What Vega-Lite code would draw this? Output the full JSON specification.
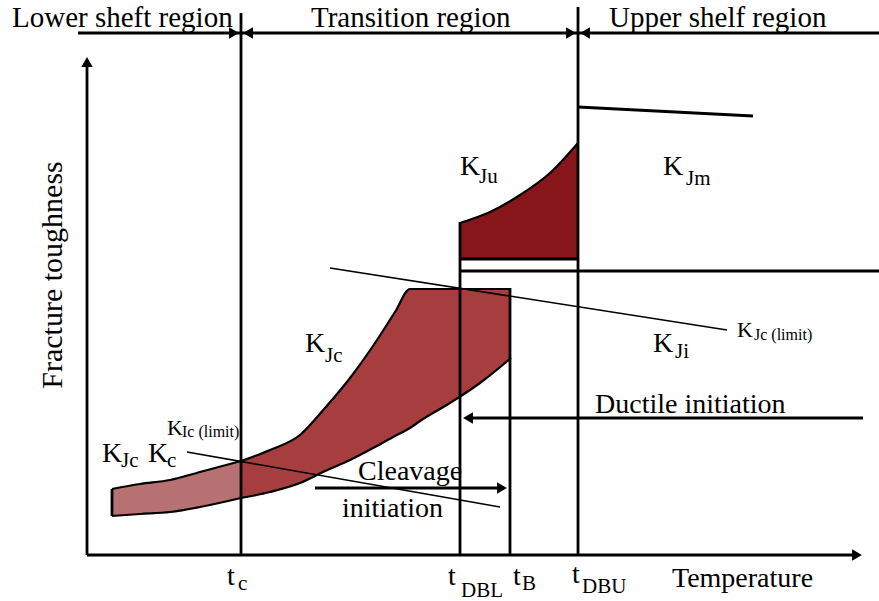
{
  "$schema": "https://vega.github.io/schema/vega-lite/v6.json",
  "width": 879,
  "height": 601,
  "autosize": {"type": "none"},
  "padding": 0,
  "background": "white",
  "config": {"view": {"stroke": null}},
  "datasets": {
    "bandLow": [
      {"x": 112, "y": 112, "y2": 85},
      {"x": 140, "y": 117, "y2": 87},
      {"x": 170, "y": 121, "y2": 89},
      {"x": 200, "y": 129, "y2": 94},
      {"x": 241, "y": 140, "y2": 103}
    ],
    "bandHigh": [
      {"x": 241, "y": 140, "y2": 103},
      {"x": 270, "y": 151, "y2": 109},
      {"x": 300, "y": 166, "y2": 118},
      {"x": 325, "y": 193, "y2": 130},
      {"x": 350, "y": 223, "y2": 141},
      {"x": 375, "y": 258, "y2": 154},
      {"x": 395, "y": 289, "y2": 165},
      {"x": 410, "y": 312, "y2": 173},
      {"x": 420, "y": 312, "y2": 180},
      {"x": 450, "y": 312, "y2": 198},
      {"x": 480, "y": 312, "y2": 218},
      {"x": 511, "y": 312, "y2": 243}
    ],
    "bandJu": [
      {"x": 460, "y": 378, "y2": 342},
      {"x": 490, "y": 389, "y2": 342},
      {"x": 520, "y": 406, "y2": 342},
      {"x": 550, "y": 428, "y2": 342},
      {"x": 578, "y": 458, "y2": 342}
    ],
    "segThick": [
      {"x": 78, "y": 568, "x2": 879, "y2": 568},
      {"x": 241, "y": 588, "x2": 241, "y2": 46},
      {"x": 578, "y": 594, "x2": 578, "y2": 46},
      {"x": 460, "y": 379, "x2": 460, "y2": 46},
      {"x": 510, "y": 313, "x2": 510, "y2": 46},
      {"x": 87, "y": 46, "x2": 852, "y2": 46},
      {"x": 87, "y": 46, "x2": 87, "y2": 535},
      {"x": 460, "y": 330, "x2": 879, "y2": 330},
      {"x": 460, "y": 342, "x2": 578, "y2": 342},
      {"x": 578, "y": 494, "x2": 753, "y2": 485},
      {"x": 315, "y": 113, "x2": 500, "y2": 113},
      {"x": 470, "y": 183, "x2": 863, "y2": 183},
      {"x": 112, "y": 85, "x2": 112, "y2": 112}
    ],
    "segThin": [
      {"x": 330, "y": 333, "x2": 727, "y2": 271},
      {"x": 187, "y": 149, "x2": 500, "y2": 94}
    ],
    "arrows": [
      {"x": 234, "y": 568, "d": "r"},
      {"x": 248, "y": 568, "d": "l"},
      {"x": 571, "y": 568, "d": "r"},
      {"x": 585, "y": 568, "d": "l"},
      {"x": 502, "y": 113, "d": "r"},
      {"x": 468, "y": 183, "d": "l"},
      {"x": 87, "y": 539, "d": "u"},
      {"x": 857, "y": 46, "d": "r"}
    ],
    "titles": [
      {"x": 12, "y": 574, "label": "Lower sheft region"},
      {"x": 311, "y": 574, "label": "Transition region"},
      {"x": 609, "y": 574, "label": "Upper shelf region"}
    ],
    "big": [
      {"x": 672, "y": 14, "label": "Temperature"},
      {"x": 358, "y": 121, "label": "Cleavage"},
      {"x": 342, "y": 84, "label": "initiation"},
      {"x": 595, "y": 188, "label": "Ductile initiation"},
      {"x": 227, "y": 16, "label": "t"},
      {"x": 448, "y": 16, "label": "t"},
      {"x": 513, "y": 16, "label": "t"},
      {"x": 572, "y": 18, "label": "t"},
      {"x": 460, "y": 426, "label": "K"},
      {"x": 663, "y": 426, "label": "K"},
      {"x": 305, "y": 249, "label": "K"},
      {"x": 653, "y": 249, "label": "K"},
      {"x": 102, "y": 139, "label": "K"},
      {"x": 148, "y": 139, "label": "K"}
    ],
    "sub": [
      {"x": 238, "y": 11, "label": "c"},
      {"x": 461, "y": 4, "label": "DBL"},
      {"x": 522, "y": 11, "label": "B"},
      {"x": 582, "y": 8, "label": "DBU"},
      {"x": 479, "y": 418, "label": "Ju"},
      {"x": 686, "y": 416, "label": "Jm"},
      {"x": 325, "y": 239, "label": "Jc"},
      {"x": 675, "y": 243, "label": "Ji"},
      {"x": 121, "y": 134, "label": "Jc"},
      {"x": 167, "y": 134, "label": "c"}
    ],
    "smallK": [
      {"x": 167, "y": 166, "label": "K"},
      {"x": 737, "y": 264, "label": "K"}
    ],
    "smallSub": [
      {"x": 182, "y": 164, "label": "Ic (limit)"},
      {"x": 754, "y": 261, "label": "Jc (limit)"}
    ],
    "ylabel": [
      {"x": 62, "y": 326, "label": "Fracture toughness"}
    ]
  },
  "encoding": {
    "x": {"field": "x", "type": "quantitative", "scale": {"domain": [0, 879], "nice": false, "zero": false}, "axis": null},
    "y": {"field": "y", "type": "quantitative", "scale": {"domain": [0, 601], "nice": false, "zero": false}, "axis": null}
  },
  "layer": [
    {"data": {"name": "bandLow"}, "mark": {"type": "area", "color": "#b87172", "opacity": 1, "interpolate": "monotone"}, "encoding": {"y2": {"field": "y2"}}},
    {"data": {"name": "bandHigh"}, "mark": {"type": "area", "color": "#a63d3e", "opacity": 1, "interpolate": "monotone"}, "encoding": {"y2": {"field": "y2"}}},
    {"data": {"name": "bandJu"}, "mark": {"type": "area", "color": "#861619", "opacity": 1, "interpolate": "monotone"}, "encoding": {"y2": {"field": "y2"}}},
    {"data": {"name": "bandLow"}, "mark": {"type": "line", "color": "black", "strokeWidth": 2.2, "interpolate": "monotone"}},
    {"data": {"name": "bandHigh"}, "mark": {"type": "line", "color": "black", "strokeWidth": 2.2, "interpolate": "monotone"}},
    {"data": {"name": "bandJu"}, "mark": {"type": "line", "color": "black", "strokeWidth": 2.2, "interpolate": "monotone"}},
    {"data": {"name": "bandLow"}, "mark": {"type": "line", "color": "black", "strokeWidth": 2.2, "interpolate": "monotone"},
      "encoding": {"y": {"field": "y2", "type": "quantitative", "scale": {"domain": [0, 601], "nice": false, "zero": false}, "axis": null}}},
    {"data": {"name": "bandHigh"}, "mark": {"type": "line", "color": "black", "strokeWidth": 2.2, "interpolate": "monotone"},
      "encoding": {"y": {"field": "y2", "type": "quantitative", "scale": {"domain": [0, 601], "nice": false, "zero": false}, "axis": null}}},
    {"data": {"name": "segThick"}, "mark": {"type": "rule", "color": "black", "strokeWidth": 2.8},
      "encoding": {"x2": {"field": "x2"}, "y2": {"field": "y2"}}},
    {"data": {"name": "segThin"}, "mark": {"type": "rule", "color": "black", "strokeWidth": 1.6},
      "encoding": {"x2": {"field": "x2"}, "y2": {"field": "y2"}}},
    {"data": {"name": "arrows"}, "mark": {"type": "point", "filled": true, "color": "black", "opacity": 1, "size": 130, "strokeWidth": 0},
      "encoding": {"shape": {"field": "d", "type": "nominal", "scale": {"domain": ["r", "l", "u"], "range": ["triangle-right", "triangle-left", "triangle-up"]}, "legend": null}}},
    {"data": {"name": "titles"}, "mark": {"type": "text", "font": "Liberation Serif", "fontSize": 29, "align": "left", "baseline": "alphabetic", "color": "black"},
      "encoding": {"text": {"field": "label"}}},
    {"data": {"name": "big"}, "mark": {"type": "text", "font": "Liberation Serif", "fontSize": 28, "align": "left", "baseline": "alphabetic", "color": "black"},
      "encoding": {"text": {"field": "label"}}},
    {"data": {"name": "sub"}, "mark": {"type": "text", "font": "Liberation Serif", "fontSize": 21, "align": "left", "baseline": "alphabetic", "color": "black"},
      "encoding": {"text": {"field": "label"}}},
    {"data": {"name": "smallK"}, "mark": {"type": "text", "font": "Liberation Serif", "fontSize": 22, "align": "left", "baseline": "alphabetic", "color": "black"},
      "encoding": {"text": {"field": "label"}}},
    {"data": {"name": "smallSub"}, "mark": {"type": "text", "font": "Liberation Serif", "fontSize": 16, "align": "left", "baseline": "alphabetic", "color": "black"},
      "encoding": {"text": {"field": "label"}}},
    {"data": {"name": "ylabel"}, "mark": {"type": "text", "font": "Liberation Serif", "fontSize": 30, "align": "center", "baseline": "alphabetic", "angle": 270, "color": "black"},
      "encoding": {"text": {"field": "label"}}}
  ]
}
